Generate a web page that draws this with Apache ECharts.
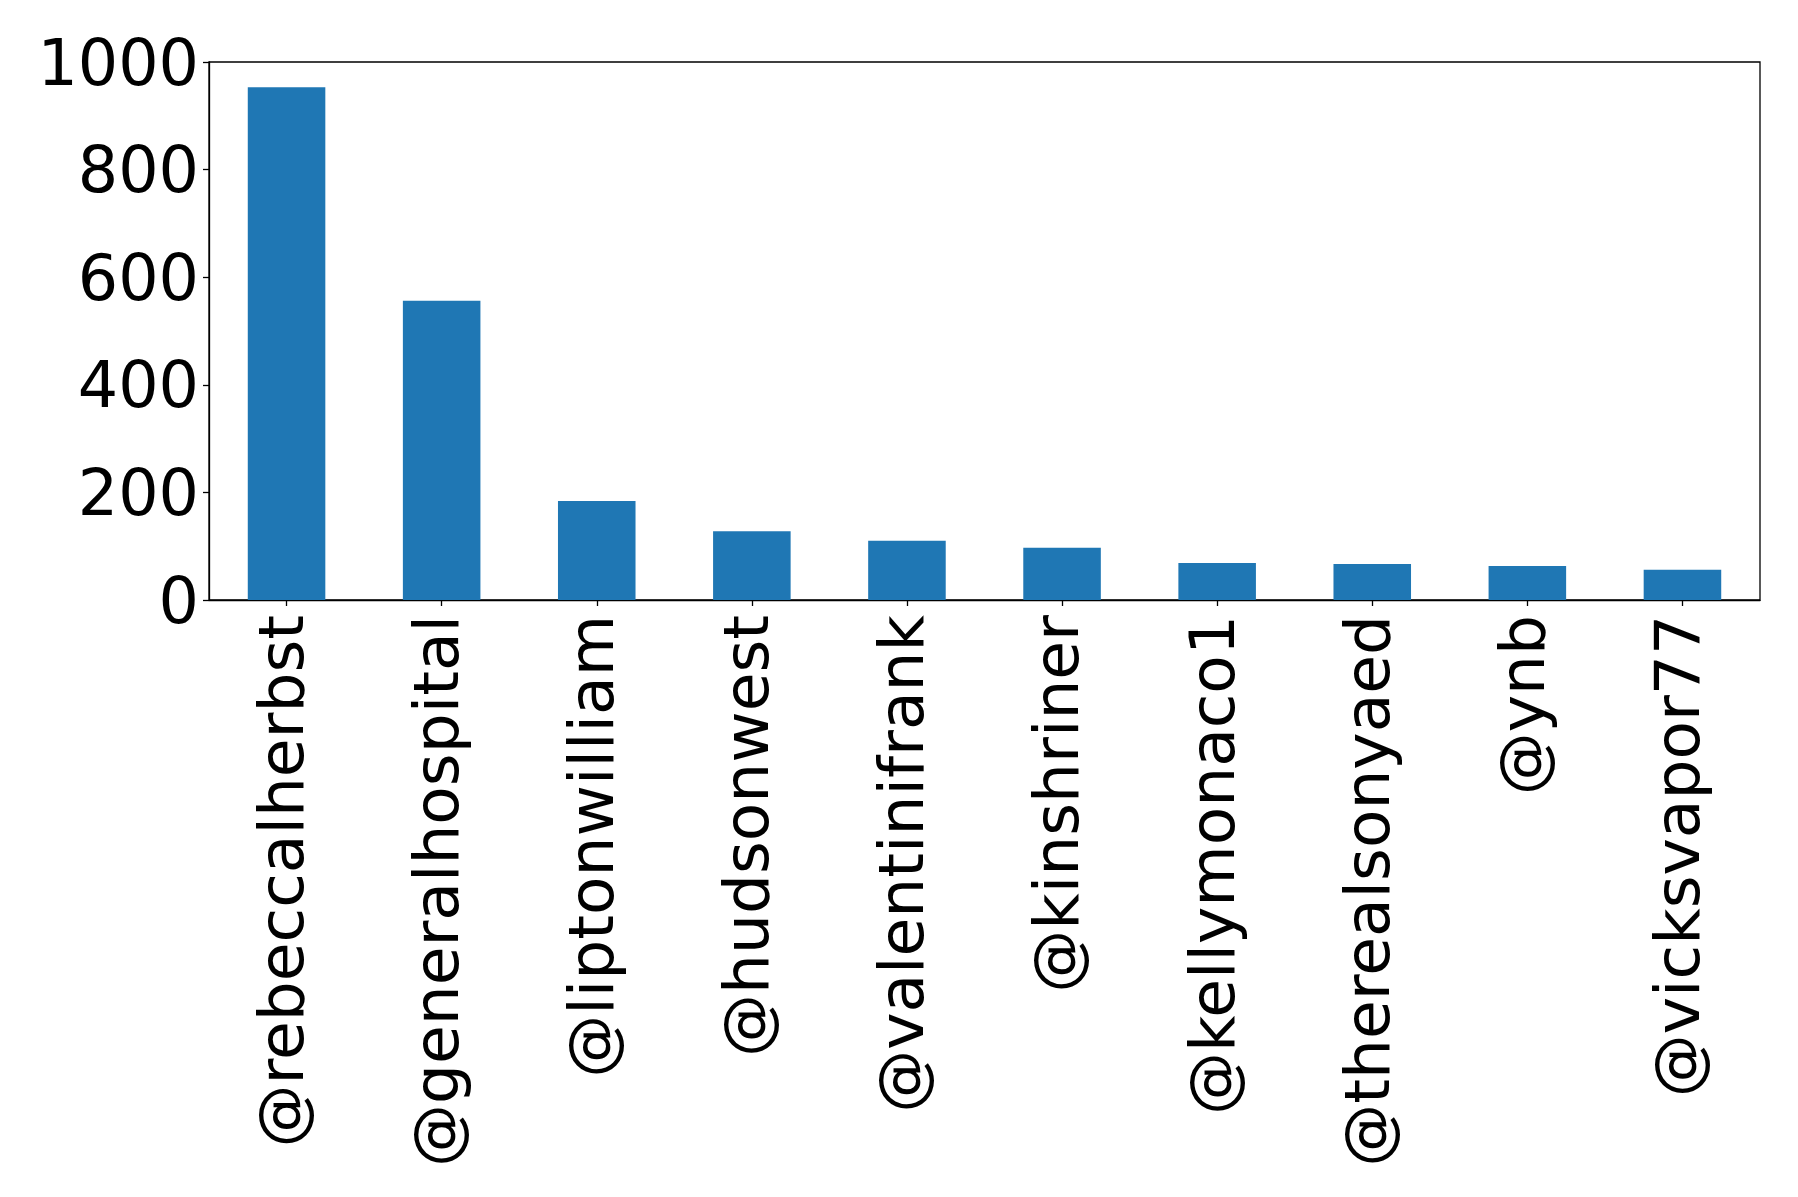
<!DOCTYPE html>
<html>
<head>
<meta charset="utf-8">
<script src="https://cdn.jsdelivr.net/npm/echarts@6/dist/echarts.min.js"></script>
<style>
html,body{margin:0;padding:0;background:#fff;}
#chart{width:1798px;height:1197px;}
</style>
</head>
<body>
<div id="chart"></div>
<script>
const categories = ['@rebeccalherbst','@generalhospital','@liptonwilliam','@hudsonwest','@valentinifrank','@kinshriner','@kellymonaco1','@therealsonyaed','@ynb','@vicksvapor77'];
const values = [953, 556, 184, 128, 110, 97, 69, 67, 63, 56];
const yTicks = [0, 200, 400, 600, 800, 1000];

const chart = echarts.init(document.getElementById('chart'), null, {renderer:'canvas'});
const font = 'DejaVu Sans';
chart.setOption({
  animation:false,
  backgroundColor:'#ffffff',
  grid:{left:209,right:38,top:62,bottom:597,show:true,borderColor:'#000',borderWidth:1.3,backgroundColor:'transparent'},
  xAxis:{
    type:'category',
    data:categories,
    axisLine:{show:true,lineStyle:{color:'#000',width:1.3}},
    axisTick:{show:true,alignWithLabel:true,length:6,lineStyle:{color:'#000',width:1.3}},
    axisLabel:{rotate:90,margin:15,color:'#000',fontFamily:font,fontSize:63,interval:0},
    splitLine:{show:false}
  },
  yAxis:{
    type:'value',
    min:yTicks[0],
    max:yTicks[yTicks.length-1],
    interval:200,
    axisLine:{show:true,lineStyle:{color:'#000',width:1.3}},
    axisTick:{show:true,length:6,lineStyle:{color:'#000',width:1.3}},
    axisLabel:{
      margin:10,color:'#000',fontFamily:font,fontSize:63.5,
      formatter:function(v){return '{a|' + v + '}';},
      rich:{a:{fontFamily:font,fontSize:63.5,color:'#000',padding:[12,0,0,0]}}
    },
    splitLine:{show:false}
  },
  series:[{
    type:'bar',
    data:values,
    barWidth:'50%',
    itemStyle:{color:'#1f77b4'}
  }]
});
</script>
</body>
</html>
